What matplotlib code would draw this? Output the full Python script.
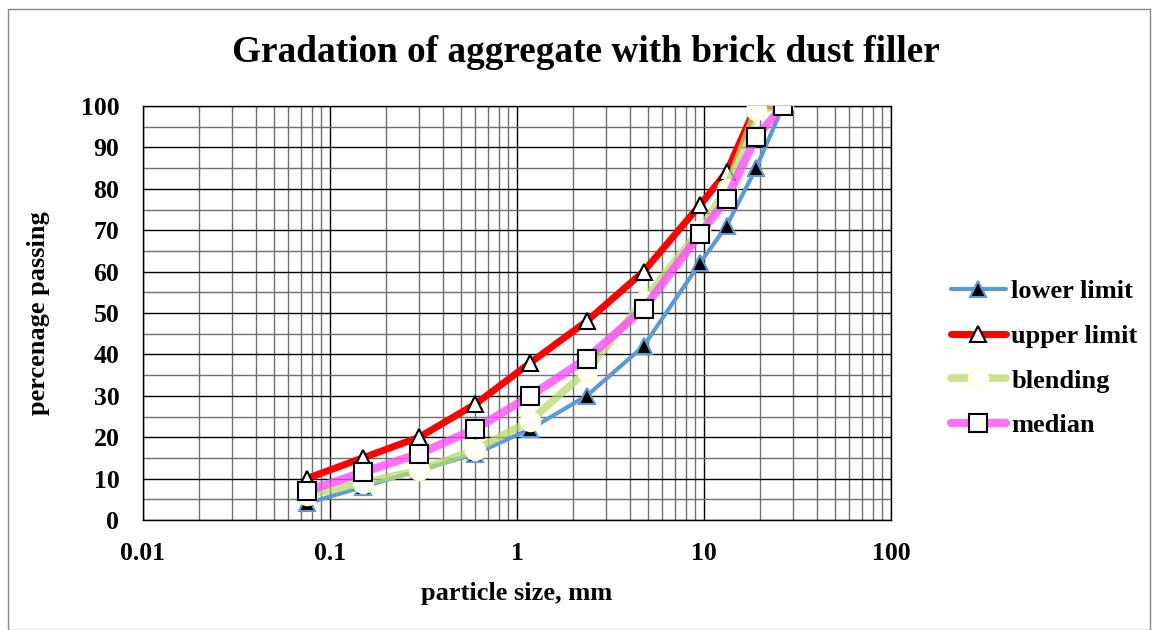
import matplotlib.pyplot as plt
import matplotlib.ticker as mticker
from matplotlib.patches import Rectangle
import numpy as np

plt.rcParams['font.family'] = ['Liberation Serif', 'DejaVu Serif']
plt.rcParams['font.weight'] = 'bold'

# sieve sizes (mm) and percent passing
sieve = [0.075, 0.15, 0.3, 0.6, 1.18, 2.36, 4.75, 9.5, 13.2, 19, 26.5]
lower = [4, 8, 12, 16, 22, 30, 42, 62, 71, 85, 100]
upper = [10, 15, 20, 28, 38, 48, 60, 76, 84, 100, 100]
blending = [6, 9, 12, 17, 24, 36, 53, 70, 80, 99, 100]
median = [7, 11.5, 16, 22, 30, 39, 51, 69, 77.5, 92.5, 100]

fig = plt.figure(figsize=(11.52, 6.30), dpi=100)
ax = fig.add_axes([0.1241, 0.1746, 0.6493, 0.6571])

ax.plot(sieve, lower, color='#5B9BD5', lw=3, marker='^', ms=11,
        mfc='black', mec='#5B9BD5', mew=1.5, label='lower limit', zorder=3,
        solid_capstyle='round')
ax.plot(sieve, upper, color='#FF0000', lw=5, marker='^', ms=11,
        mfc='white', mec='black', mew=1.5, label='upper limit', zorder=4,
        solid_capstyle='round')
ax.plot(sieve, blending, color=(0.72, 0.86, 0.42, 0.75), lw=5.5, marker='o', ms=14,
        mfc='white', mec='#FFFFCC', mew=1.5, label='blending', zorder=5,
        solid_capstyle='round')
ax.plot(sieve, median, color=(1.0, 0.3, 1.0, 0.8), lw=6, marker='s', ms=13,
        mfc='white', mec='black', mew=1.5, label='median', zorder=6,
        solid_capstyle='round')

ax.set_xscale('log')
ax.set_xlim(0.01, 100)
ax.set_ylim(0, 100)
ax.set_xticks([0.01, 0.1, 1, 10, 100])
ax.xaxis.set_major_formatter(mticker.FuncFormatter(lambda v, p: f'{v:g}'))
ax.set_yticks(np.arange(0, 101, 10))
ax.yaxis.set_minor_locator(mticker.MultipleLocator(5))
ax.xaxis.set_minor_locator(mticker.LogLocator(subs=np.arange(2, 10)))
ax.xaxis.set_minor_formatter(mticker.NullFormatter())
ax.grid(which='major', color='black', lw=1.0)
ax.grid(which='minor', color='#6f6f6f', lw=1.0)
ax.set_axisbelow(True)
ax.tick_params(which='both', length=0, labelsize=18.5)
ax.tick_params(axis='x', pad=16)
ax.tick_params(axis='y', pad=17)
for s in ax.spines.values():
    s.set_color('black')
    s.set_linewidth(1.0)

ax.set_xlabel('particle size, mm', fontsize=19, fontweight='bold', labelpad=12)
ax.set_ylabel('percenage passing', fontsize=19, fontweight='bold', labelpad=22)
fig.text(0.509, 0.917, 'Gradation of aggregate with brick dust filler',
         ha='center', va='center', fontsize=26.8, fontweight='bold')

fig.legend(loc='center left', bbox_to_anchor=(0.8046, 0.431), frameon=False,
           fontsize=19, handlelength=2.1, handletextpad=0.2, labelspacing=0.81)

fig.patches.append(Rectangle((0.007, 0.0), 0.991, 0.985, transform=fig.transFigure,
                             fill=False, edgecolor='#888888', lw=1))

fig.savefig('out.png', dpi=100)
